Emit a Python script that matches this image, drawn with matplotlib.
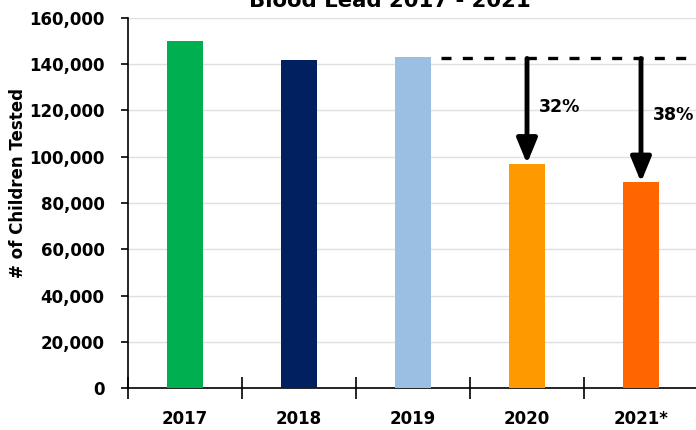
import matplotlib.pyplot as plt
from matplotlib.ticker import FuncFormatter

years = ["2017", "2018", "2019", "2020", "2021*"]
tested = [150000, 142000, 143000, 97000, 89000]
colors = ["#00B050", "#002060", "#9BBFE3", "#FF9900", "#FF6600"]
baseline = 142500
drops = ["32%", "38%"]
label_y = [121500, 118000]

plt.rcParams['font.family'] = ['DejaVu Sans']
plt.rcParams['font.weight'] = 'bold'

fig = plt.figure(figsize=(6.96, 4.30), dpi=100)
ax = fig.add_axes([128/696, 1 - 388/430, 570/696, 370/430])

x = list(range(len(years)))
ax.bar(x, tested, width=0.32, color=colors, zorder=3)

ax.set_xlim(-0.5, 4.5)
ax.set_ylim(0, 160000)
ax.set_yticks(range(0, 160001, 20000))
ax.yaxis.set_major_formatter(FuncFormatter(lambda v, p: f"{int(v):,}"))
ax.grid(axis='y', color='#e0e0e0', lw=1, zorder=0)

# category boundaries as ticks, labels at centres
ax.set_xticks([i - 0.5 for i in range(len(years) + 1)])
ax.set_xticklabels([])
ax.set_xticks(x, minor=True)
ax.set_xticklabels(years, minor=True)
ax.tick_params(axis='x', which='major', direction='inout', length=16, width=1.2)
ax.tick_params(axis='x', which='minor', length=0, pad=16, labelsize=12)
ax.tick_params(axis='y', direction='out', length=5, width=1.2, labelsize=12, pad=12)

for s in ['top', 'right']:
    ax.spines[s].set_visible(False)
for s in ['left', 'bottom']:
    ax.spines[s].set_linewidth(1.2)

ax.set_ylabel("# of Children Tested", fontsize=12, fontweight='bold')
ax.yaxis.set_label_coords(-0.178, 0.553)
ax.set_title("Blood Lead 2017 - 2021", fontsize=15.3, fontweight='bold', pad=0,
             x=0.46, y=1.031)

# reference dashed line from 2019 level
ax.plot([2.25, 4.6], [baseline, baseline], color='black', lw=2.4,
        dashes=(3, 3.4), clip_on=False, zorder=4)

for k, i in enumerate([3, 4]):
    ax.annotate("", xy=(i, tested[i]), xytext=(i, baseline),
                arrowprops=dict(arrowstyle='-|>,head_width=0.28,head_length=0.68',
                                lw=3.5, color='black', shrinkA=0, shrinkB=0,
                                mutation_scale=22), zorder=5)
    ax.text(i + 0.1, label_y[k], drops[k], fontsize=12.5, fontweight='bold',
            va='center', ha='left')

fig.savefig("out.png", dpi=100)
